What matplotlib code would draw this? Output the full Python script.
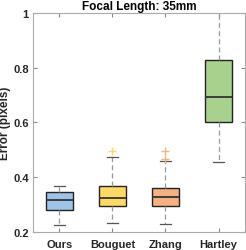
import matplotlib.pyplot as plt

plt.rcParams['font.family'] = ['Liberation Sans', 'DejaVu Sans']

methods = ["Ours", "Bouguet", "Zhang", "Hartley"]
q1 = [0.279, 0.295, 0.295, 0.602]
med = [0.318, 0.325, 0.329, 0.693]
q3 = [0.345, 0.367, 0.360, 0.828]
whislo = [0.226, 0.233, 0.228, 0.456]
whishi = [0.367, 0.473, 0.459, 1.05]
outliers = [[], [0.496], [0.467, 0.497], []]
colors = ["#9dc3e6", "#ffd966", "#f4b183", "#a9d18e"]

stats = []
for i, m in enumerate(methods):
    stats.append(dict(label=m, q1=q1[i], med=med[i], q3=q3[i],
                      whislo=whislo[i], whishi=whishi[i], fliers=outliers[i]))

fig = plt.figure(figsize=(2.46, 2.51), dpi=100)
ax = fig.add_axes([0.134, 0.072, 0.862, 0.872])

bp = ax.bxp(stats, widths=0.5, patch_artist=True, showfliers=True,
            boxprops=dict(edgecolor="#222222", linewidth=1.0),
            medianprops=dict(color="#333333", linewidth=1.3),
            whiskerprops=dict(color="#999999", linestyle=(0, (4, 2.5)), linewidth=0.9),
            capprops=dict(color="#555555", linewidth=0.9),
            capwidths=0.2)
for i, box in enumerate(bp["boxes"]):
    box.set_facecolor(colors[i])
for i, fl in enumerate(bp["fliers"]):
    fl.set(marker="+", markeredgecolor=colors[i], markersize=6, markeredgewidth=1.0)

ax.set_xlim(0.5, 4.5)
ax.set_ylim(0.2, 1.0)
ax.set_yticks([0.2, 0.4, 0.6, 0.8, 1.0])
ax.set_yticklabels(["0.2", "0.4", "0.6", "0.8", "1"])
ax.tick_params(direction="in", length=3, color="#888888", labelsize=8,
               labelcolor="#262626", top=True, right=True, pad=3)
ax.tick_params(axis="x", pad=5)
for lab in ax.get_xticklabels() + ax.get_yticklabels():
    lab.set_fontweight("bold")
for sp in ax.spines.values():
    sp.set_color("#aaaaaa")
ax.set_ylabel("Error (pixels)", fontsize=8.5, fontweight="bold", color="#262626")
ax.yaxis.set_label_coords(-0.105, 0.5)
ax.set_title("Focal Length: 35mm", fontsize=8.5, fontweight="bold", pad=3)

fig.savefig("out.png", dpi=100)
